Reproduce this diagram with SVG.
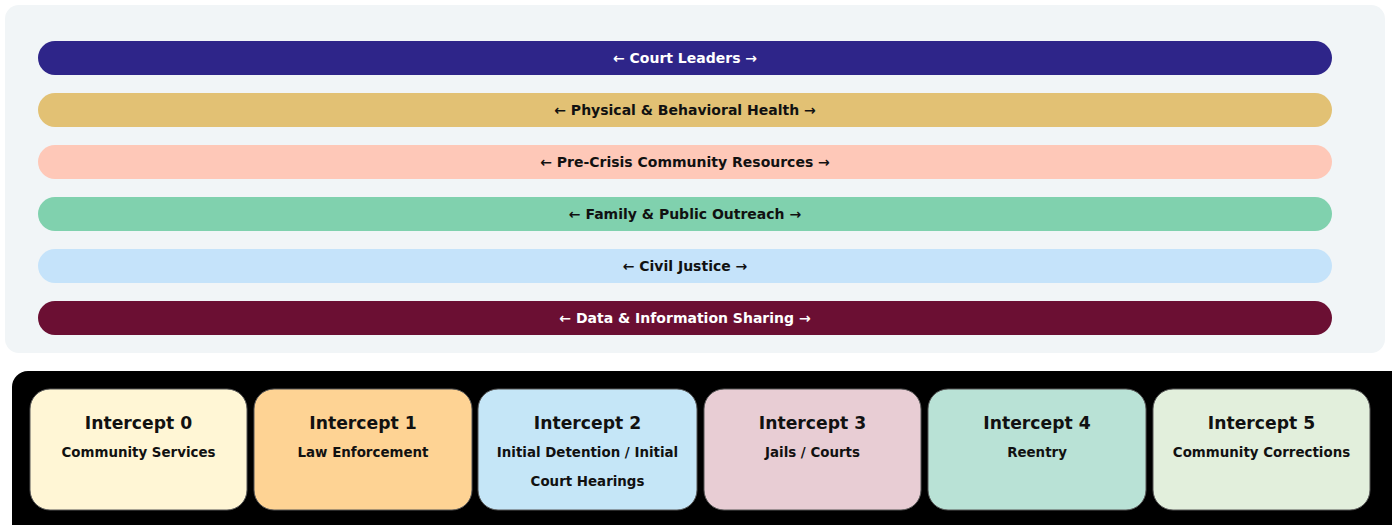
<svg xmlns="http://www.w3.org/2000/svg" width="1392" height="525" viewBox="0 0 1392 525">
<style>
.bl{font-family:"DejaVu Sans",Verdana,sans-serif;font-weight:bold;font-size:14px;text-anchor:middle}
.box{stroke:#555;stroke-width:1}
.t{font-family:"DejaVu Sans",Verdana,sans-serif;font-weight:bold;font-size:17.2px;text-anchor:middle;fill:#111}
.s{font-family:"DejaVu Sans",Verdana,sans-serif;font-weight:bold;font-size:13.4px;text-anchor:middle;fill:#111}
</style>
<rect width="1392" height="525" fill="#ffffff"/>
<g id="lanes">
<rect x="5" y="5" width="1380" height="348" rx="14" fill="#f1f5f7"/>
<g id="lane-court"><rect x="38" y="41" width="1294" height="34" rx="17" fill="#2e2589"/><text class="bl" x="685" y="63" fill="#ffffff">← Court Leaders →</text></g>
<g id="lane-health"><rect x="38" y="93" width="1294" height="34" rx="17" fill="#e2c174"/><text class="bl" x="685" y="115" fill="#111">← Physical &amp; Behavioral Health →</text></g>
<g id="lane-precrisis"><rect x="38" y="145" width="1294" height="34" rx="17" fill="#fec8b8"/><text class="bl" x="685" y="167" fill="#111">← Pre-Crisis Community Resources →</text></g>
<g id="lane-family"><rect x="38" y="197" width="1294" height="34" rx="17" fill="#80d1ae"/><text class="bl" x="685" y="219" fill="#111">← Family &amp; Public Outreach →</text></g>
<g id="lane-civil"><rect x="38" y="249" width="1294" height="34" rx="17" fill="#c5e3fa"/><text class="bl" x="685" y="271" fill="#111">← Civil Justice →</text></g>
<g id="lane-data"><rect x="38" y="301" width="1294" height="34" rx="17" fill="#6b0f33"/><text class="bl" x="685" y="323" fill="#ffffff">← Data &amp; Information Sharing →</text></g>
</g>
<g id="connectors"></g>
<rect x="12" y="371" width="1396" height="170" rx="16" fill="#000000"/>
<g id="intercept0"><rect class="box" x="30" y="389" width="217" height="121" rx="20" fill="#fff6d5"/><text class="t" x="138.5" y="429">Intercept 0</text><text class="s" x="138.5" y="457">Community Services</text></g>
<g id="intercept1"><rect class="box" x="254" y="389" width="218" height="121" rx="20" fill="#fed394"/><text class="t" x="363" y="429">Intercept 1</text><text class="s" x="363" y="457">Law Enforcement</text></g>
<g id="intercept2"><rect class="box" x="478" y="389" width="219" height="121" rx="20" fill="#c5e6f7"/><text class="t" x="587.5" y="429">Intercept 2</text><text class="s" x="587.5" y="457">Initial Detention / Initial</text><text class="s" x="587.5" y="486">Court Hearings</text></g>
<g id="intercept3"><rect class="box" x="704" y="389" width="217" height="121" rx="20" fill="#e8cdd4"/><text class="t" x="812.5" y="429">Intercept 3</text><text class="s" x="812.5" y="457">Jails / Courts</text></g>
<g id="intercept4"><rect class="box" x="928" y="389" width="218" height="121" rx="20" fill="#b9e2d6"/><text class="t" x="1037" y="429">Intercept 4</text><text class="s" x="1037" y="457">Reentry</text></g>
<g id="intercept5"><rect class="box" x="1153" y="389" width="217" height="121" rx="20" fill="#e2efdc"/><text class="t" x="1261.5" y="429">Intercept 5</text><text class="s" x="1261.5" y="457">Community Corrections</text></g>
</svg>
